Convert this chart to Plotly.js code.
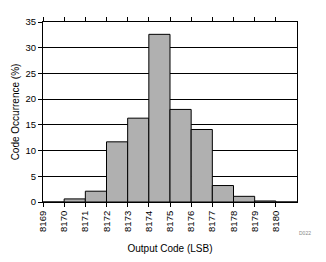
<!DOCTYPE html>
<html><head><meta charset="utf-8">
<script src="https://cdn.plot.ly/plotly-3.0.1.min.js"></script>
<style>html,body{margin:0;padding:0;background:#fff}</style>
</head><body><div id="chart" style="width:326px;height:262px"></div>
<script>
const codes = [8169, 8170, 8171, 8172, 8173, 8174, 8175, 8176, 8177, 8178, 8179, 8180];
const occurrence = [0, 0.6, 2.1, 11.7, 16.3, 32.6, 18.0, 14.1, 3.2, 1.1, 0.2, 0];
const tickLabels = codes.map(String);
const yTicks = [0, 5, 10, 15, 20, 25, 30, 35];

const font = {family: 'Arial, "Liberation Sans", sans-serif', size: 10, color: '#000'};

Plotly.newPlot('chart', [{
  type: 'bar',
  x: codes.map(c => c + 0.5),
  y: occurrence,
  width: 1,
  marker: {color: '#b0b0b0', line: {color: '#000', width: 1}},
  hoverinfo: 'none'
}], {
  width: 326, height: 262,
  margin: {l: 43, r: 29, t: 22, b: 60, pad: 0},
  paper_bgcolor: '#fff', plot_bgcolor: '#fff',
  showlegend: false,
  font: font,
  bargap: 0,
  xaxis: {
    range: [8169, 8181],
    tickmode: 'array', tickvals: codes, ticktext: tickLabels,
    tickangle: -90,
    ticks: 'outside', ticklen: 4, tickwidth: 1, tickcolor: '#000',
    showline: true, linecolor: '#000', linewidth: 1, mirror: 'allticks',
    showgrid: false, zeroline: false,
    tickfont: {family: font.family, size: 9.5, color: '#000'},
    title: {text: 'Output Code (LSB)', font: {family: font.family, size: 10, color: '#000'}, standoff: 14}
  },
  yaxis: {
    range: [0, 35],
    tickmode: 'array', tickvals: yTicks,
    ticks: 'outside', ticklen: 4, tickwidth: 1, tickcolor: '#000',
    showline: true, linecolor: '#000', linewidth: 1, mirror: true,
    showgrid: true, gridcolor: '#000', gridwidth: 1,
    zeroline: false,
    tickfont: {family: font.family, size: 9.5, color: '#000'},
    title: {text: 'Code Occurrence (%)', font: {family: font.family, size: 10, color: '#000'}, standoff: 4}
  },
  annotations: [{
    text: 'D022', xref: 'paper', yref: 'paper', x: 1.03, y: -0.17,
    xanchor: 'center', yanchor: 'middle', showarrow: false,
    font: {family: font.family, size: 5, color: '#888'}
  }]
}, {staticPlot: true, displayModeBar: false});
</script></body></html>
